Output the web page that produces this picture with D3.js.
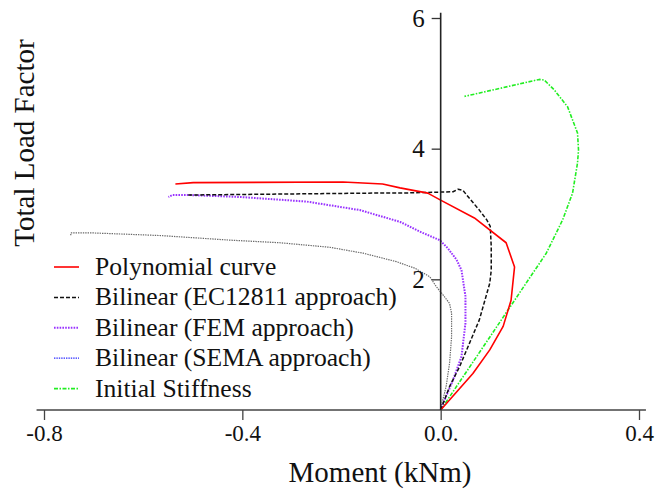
<!DOCTYPE html>
<html>
<head>
<meta charset="utf-8">
<script src="https://cdn.jsdelivr.net/npm/d3@7"></script>
<style>
  html, body { margin: 0; padding: 0; background: #fff; }
  svg { display: block; }
  text { font-family: "Liberation Serif", "Times New Roman", serif; fill: #111; }
</style>
</head>
<body>
<svg id="chart" width="656" height="495"></svg>
<script>
// Moment (kNm) vs total load factor for each model
const polynomialM  = [0, 0.065, 0.099, 0.126, 0.142, 0.149, 0.132, 0.068, -0.002, -0.026, -0.082, -0.117, -0.197, -0.499, -0.535];
const polynomialLF = [0, 0.56, 0.92, 1.28, 1.68, 2.19, 2.56, 2.94, 3.22, 3.32, 3.40, 3.46, 3.49, 3.48, 3.46];

const ec12811M  = [0, 0.018, 0.038, 0.058, 0.078, 0.099, 0.102, 0.102, 0.100, 0.093, 0.078, 0.058, 0.045, 0.035, 0.025, -0.082, -0.137, -0.513];
const ec12811LF = [0, 0.36, 0.66, 1.02, 1.38, 1.94, 2.14, 2.50, 2.81, 2.91, 3.06, 3.24, 3.36, 3.38, 3.34, 3.32, 3.32, 3.29];

const femM  = [0, 0.005, 0.025, 0.042, 0.050, 0.050, 0.042, 0.032, 0.014, -0.002, -0.042, -0.082, -0.163, -0.270, -0.404, -0.505, -0.541, -0.549];
const femLF = [0, 0.10, 0.46, 0.82, 1.33, 1.74, 2.14, 2.30, 2.48, 2.60, 2.73, 2.88, 3.06, 3.19, 3.26, 3.29, 3.29, 3.26];

const semaM  = [0, 0.001, 0.011, 0.018, 0.022, 0.022, 0.018, 0.005, -0.009, -0.022, -0.052, -0.089, -0.156, -0.223, -0.324, -0.425, -0.565, -0.700, -0.746, -0.746];
const semaLF = [0, 0.05, 0.36, 0.72, 1.12, 1.48, 1.63, 1.76, 1.89, 2.04, 2.17, 2.27, 2.40, 2.49, 2.56, 2.60, 2.67, 2.71, 2.71, 2.66];

const initialM  = [0, 0.213, 0.246, 0.266, 0.276, 0.278, 0.276, 0.256, 0.229, 0.209, 0.199, 0.048];
const initialLF = [0, 2.40, 2.91, 3.32, 3.78, 3.98, 4.24, 4.64, 4.90, 5.05, 5.06, 4.80];

const seriesNames = ["Polynomial curve", "Bilinear (EC12811 approach)", "Bilinear (FEM approach)", "Bilinear (SEMA approach)", "Initial Stiffness"];

const xTicks = [-0.8, -0.4, 0.0, 0.4];
const xTickLabels = ["-0.8", "-0.4", "0.0.", "0.4"];
const yTicks = [2, 4, 6];
const yTickLabels = ["2", "4", "6"];

// Styles per series: curve colour, legend swatch colour, dash pattern, width
const styles = [
  { stroke: "#ff0000", swatch: "#ff0000", dash: null,            width: 1.6 },
  { stroke: "#111111", swatch: "#111111", dash: "4,2",           width: 1.5 },
  { stroke: "#9933ff", swatch: "#9933ff", dash: "1.6,1.2",       width: 2 },
  { stroke: "#6a6a6a", swatch: "#2a2aff", dash: "1.4,1",         width: 1.2 },
  { stroke: "#22ee22", swatch: "#22ee22", dash: "4,1.5,1.5,1.5", width: 1.6 }
];

const seriesM  = [polynomialM, ec12811M, femM, semaM, initialM];
const seriesLF = [polynomialLF, ec12811LF, femLF, semaLF, initialLF];

const svg = d3.select("#chart");
const x = d3.scaleLinear().domain([-0.8, 0.4]).range([44, 639]);
const y = d3.scaleLinear().domain([0, 6]).range([410, 18]);

const line = d3.line().x(d => x(d[0])).y(d => y(d[1]));

// Curves (drawn in reverse so the polynomial sits on top)
d3.range(seriesM.length).reverse().forEach(i => {
  const pts = seriesM[i].map((m, k) => [m, seriesLF[i][k]]);
  svg.append("path")
    .datum(pts)
    .attr("d", line)
    .attr("fill", "none")
    .attr("stroke", styles[i].stroke)
    .attr("stroke-width", styles[i].width)
    .attr("stroke-dasharray", styles[i].dash)
    .attr("stroke-linejoin", "round");
});

// X axis
const xAxis = svg.append("g")
  .attr("transform", `translate(0,${y(0)})`)
  .call(d3.axisBottom(x).tickValues(xTicks).tickSize(10).tickSizeOuter(0)
        .tickFormat((d, i) => xTickLabels[i]));
xAxis.select(".domain").remove();
xAxis.selectAll(".tick line").attr("stroke", "#444").attr("stroke-width", 1.3);
xAxis.selectAll(".tick text")
  .attr("y", 15)
  .attr("font-size", 23)
  .attr("fill", "#111");
svg.append("line")
  .attr("x1", x(-0.815)).attr("x2", x(0.414))
  .attr("y1", y(0)).attr("y2", y(0))
  .attr("stroke", "#444").attr("stroke-width", 1.6);

// Y axis through the origin
const yAxis = svg.append("g")
  .attr("transform", `translate(${x(0)},0)`)
  .call(d3.axisLeft(y).tickValues(yTicks).tickSize(9).tickSizeOuter(0)
        .tickFormat((d, i) => yTickLabels[i]));
yAxis.select(".domain").remove();
yAxis.selectAll(".tick line").attr("stroke", "#333").attr("stroke-width", 1.3);
yAxis.selectAll(".tick text")
  .attr("x", -16)
  .attr("font-size", 25)
  .attr("fill", "#111");
svg.append("line")
  .attr("x1", x(0)).attr("x2", x(0))
  .attr("y1", y(6.08)).attr("y2", y(0))
  .attr("stroke", "#222").attr("stroke-width", 1.6);

// Axis titles
svg.append("text")
  .attr("x", 380).attr("y", 482)
  .attr("text-anchor", "middle")
  .attr("font-size", 29)
  .text("Moment (kNm)");

svg.append("text")
  .attr("transform", "translate(34,143) rotate(-90)")
  .attr("text-anchor", "middle")
  .attr("font-size", 29)
  .text("Total Load Factor");

// Legend
const legend = svg.append("g");
seriesNames.forEach((name, i) => {
  const base = 275 + i * 30.4;
  legend.append("line")
    .attr("x1", 54).attr("x2", 79)
    .attr("y1", base - 8).attr("y2", base - 8)
    .attr("stroke", styles[i].swatch)
    .attr("stroke-width", styles[i].width)
    .attr("stroke-dasharray", styles[i].dash);
  legend.append("text")
    .attr("x", 95).attr("y", base)
    .attr("font-size", 25.6)
    .text(name);
});
</script>
</body>
</html>
